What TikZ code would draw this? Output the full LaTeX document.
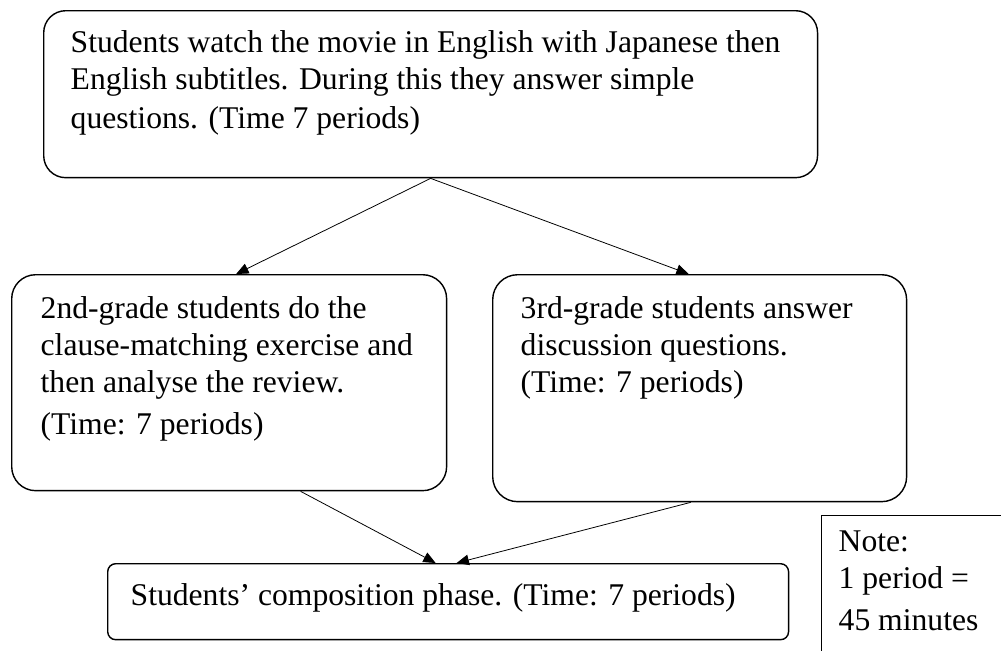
\documentclass[tikz,border=0pt]{standalone}
\usepackage{fontspec}
\setmainfont{Liberation Serif}
\usetikzlibrary{arrows.meta}
\newcommand {\stagetext}[3] {\parbox[c][#2][t]{#1}{\raggedright #3}}
\tikzset{
	stage/.style={draw, line width=0.8pt, anchor=north west, inner sep=0pt,
		font=\fontsize{18}{21}\selectfont},
	flow/.style={-{Triangle[length=7pt,width=6pt]}, line width=0.45pt}
}

\begin{document}
\begin{tikzpicture}[x=0.02cm, y=-0.02cm]
	\clip (0,0) rectangle (1001,650);
	\fill[white] (0,0) rectangle (1001,650);
	\node[stage, rounded corners=0.44cm, inner xsep=0.54cm, inner ysep=0.40cm] (watch) at (43,10)
		{\stagetext{14.4cm}{2.54cm}{Students watch the movie in English with Japanese then\\
		English subtitles. During this they answer simple\\[1pt]
		questions. (Time 7 periods)}};
	\node[stage, rounded corners=0.48cm, inner xsep=0.58cm, inner ysep=0.44cm] (grade2) at (11,274)
		{\stagetext{7.54cm}{3.44cm}{2nd-grade students do the\\
		clause-matching exercise and\\
		then analyse the review.\\[3pt]
		(Time: 7 periods)}};
	\node[stage, rounded corners=0.5cm, inner xsep=0.56cm, inner ysep=0.44cm] (grade3) at (492,274)
		{\stagetext{7.16cm}{3.66cm}{3rd-grade students answer\\
		discussion questions.\\
		(Time: 7 periods)}};
	\node[stage, rounded corners=0.16cm, inner xsep=0.46cm, inner ysep=0.40cm] (compose) at (107,563)
		{\stagetext{12.7cm}{0.72cm}{Students’ composition phase. (Time: 7 periods)}};
	\node[stage, inner xsep=0.34cm, inner ysep=0.30cm] (note) at (821,515)
		{\stagetext{3.32cm}{2.40cm}{Note:\\
		1 period =\\[3pt]
		45 minutes}};
	\draw[flow] (watch.south) -- ([xshift=0.14cm]grade2.north);
	\draw[flow] (watch.south) -- ([xshift=-0.22cm]grade3.north);
	\draw[flow] ([xshift=1.43cm]grade2.south) -- ([xshift=-0.25cm]compose.north);
	\draw[flow] ([xshift=-0.18cm]grade3.south) -- ([xshift=0.17cm]compose.north);
\end{tikzpicture}
\end{document}
